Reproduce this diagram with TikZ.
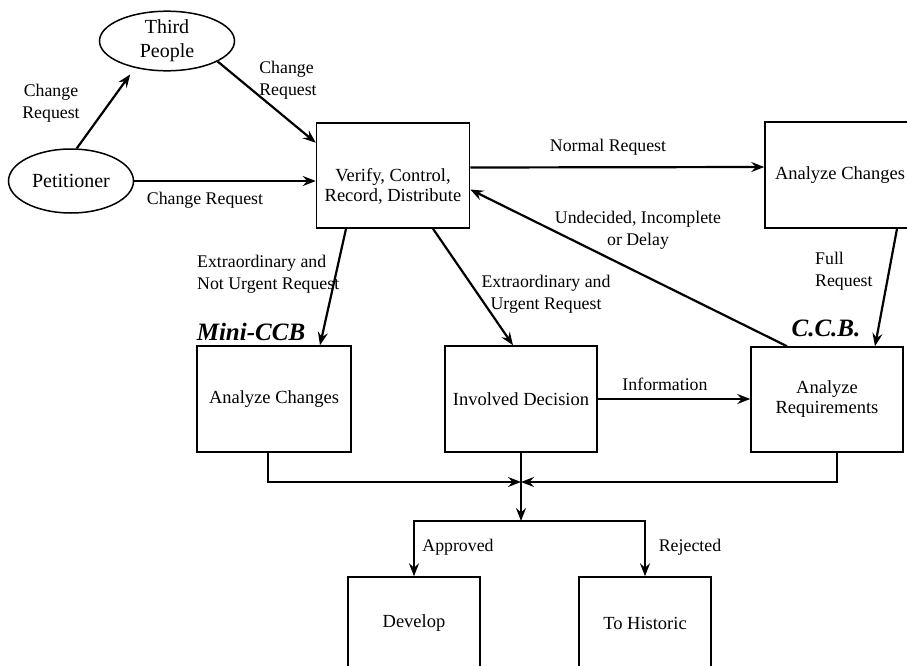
\documentclass[tikz,border=0pt]{standalone}
\usepackage{fontspec}
\setmainfont{Liberation Serif}
\usetikzlibrary{arrows.meta,calc,shapes.geometric}
\tikzset{>={Stealth[length=13pt,width=10pt,inset=4.5pt]}}
\tikzstyle{box}=[
	 rectangle, draw, line width=1.5pt,
	 minimum width=152pt, minimum height=106pt,
	 inner sep=0pt, align=center,
	 font=\fontsize{18.5}{20}\selectfont
    ]
\tikzstyle{smallbox}=[box, minimum width=132pt, minimum height=92pt]
\tikzstyle{boxtext}=[inner sep=0pt, align=center, font=\fontsize{18.5}{20}\selectfont]
\tikzstyle{ell}=[
	 ellipse, draw, line width=1.5pt, inner sep=0pt, align=center,
	 font=\fontsize{20}{24}\selectfont
    ]
\tikzstyle{lbl}=[inner sep=0pt, align=center, font=\fontsize{17.8}{22}\selectfont]
\tikzstyle{team}=[inner sep=0pt, font=\fontsize{25}{30}\selectfont\bfseries\itshape]
\tikzstyle{flow}=[->, line width=2.2pt]

\begin{document}
\begin{tikzpicture}[x=1pt,y=-1pt]
\useasboundingbox (0,0) rectangle (907,666);
\clip (0,0) rectangle (907,666);

% people
\node[ell, minimum width=135pt, minimum height=55pt] (third) at (167,41) {Third\\People};
\node[ell, minimum width=125pt, minimum height=64pt] (pet) at (71,181) {Petitioner};

% boxes
\node[box, minimum width=153pt, minimum height=105pt] (ver) at (393,175.5) {};
\node[boxtext] (vertext) at ([yshift=-11pt]ver.center) {Verify, Control,\\Record, Distribute};
\node[box, minimum width=150pt] (ana) at (840,175) {Analyze Changes};
\node[box, minimum width=154pt] (mini) at (274,399) {Analyze Changes};
\node[box] (inv) at (521,399) {Involved Decision};
\node[box, minimum height=105pt] (ccb) at (827,399.5) {Analyze\\Requirements};
\node[smallbox] (dev) at (414,623) {Develop};
\node[smallbox] (hist) at (645,623) {To Historic};

\node[team] (mininame) at (251,332) {Mini-CCB};
\node[team] (ccbname) at (826,328) {C.C.B.};

\coordinate (join) at (521,482);
\coordinate (split) at (521,521);

% incoming requests
\draw[flow, shorten >=8pt] (pet.80) -- (third.220);
\draw[flow] (third.-22) -- (ver.157);
\draw[flow] (pet.east) -- (pet.east -| ver.west);

\draw[flow] ([yshift=8pt]ver.east) -- ([yshift=8pt]ana.west);
\draw[flow] ([xshift=-40pt]ccb.north) -- ([yshift=-14pt]ver.east);
\draw[flow] ([xshift=-47pt]ver.south) -- ([xshift=46pt]mini.north);
\draw[flow] ([xshift=40pt]ver.south) -- ([xshift=-8pt]inv.north);
\draw[flow] ([xshift=57pt]ana.south) -- ([xshift=48pt]ccb.north);
\draw[flow] (inv.east) -- (inv.east -| ccb.west);

% decision
\draw[flow] ([xshift=-6pt]mini.south) |- (join);
\draw[flow] ([xshift=10pt]ccb.south) |- (join);
\draw[flow] (inv.south) -- (split);
\draw[flow] (split) -| (dev.north);
\draw[flow] (split) -| (hist.north);

% labels
\node[lbl] (l1) at (51,103) {Change\\Request};
\node[lbl, align=left] (l2) at (288,80) {Change\\Request};
\node[lbl] (l3) at (205,200) {Change Request};
\node[lbl] (l4) at (608,147) {Normal Request};
\node[lbl] (l5) at (638,230) {Undecided, Incomplete\\or Delay};
\node[lbl, align=left, anchor=west] (l6) at (197,274) {Extraordinary and\\Not Urgent Request};
\node[lbl] (l7) at (546,294) {Extraordinary and\\Urgent Request};
\node[lbl, align=left, anchor=west] (l8) at (815,271) {Full\\Request};
\node[lbl] (l9) at (665,384) {Information};
\node[lbl] (l10) at (458,547) {Approved};
\node[lbl] (l11) at (690,547) {Rejected};

\end{tikzpicture}
\end{document}
